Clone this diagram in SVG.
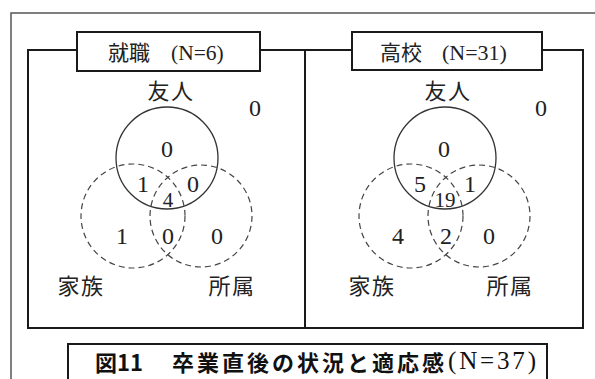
<svg xmlns="http://www.w3.org/2000/svg" width="595" height="379" viewBox="0 0 595 379">
<style>
.frame{fill:none;stroke:#555;stroke-width:1.5}
.panel{fill:none;stroke:#1a1a1a;stroke-width:2}
.tbox{fill:#fff;stroke:#1a1a1a;stroke-width:2}
.solid{fill:none;stroke:#333;stroke-width:1.3}
.dash{fill:none;stroke:#444;stroke-width:1.2;stroke-dasharray:6 4}
.lab{font-family:"Liberation Serif","Noto Sans CJK JP",serif;font-size:22px;fill:#222;text-anchor:middle;letter-spacing:1.5px}
.num{font-family:"Liberation Serif",serif;font-size:24px;fill:#222;text-anchor:middle}
.sm{font-size:21px}
.ttl{font-family:"Liberation Serif","Noto Sans CJK JP",serif;font-size:21px;fill:#222}
.cap{font-family:"Noto Sans CJK JP",sans-serif;font-size:22px;font-weight:bold;fill:#111}
.capn{font-family:"Liberation Serif",serif;font-weight:normal;font-size:25px}
</style>
<g id="frame">
<path class="frame" d="M11,379 V13 H595"/>
</g>
<g id="connectors">
<rect class="panel" x="28" y="50" width="555" height="278"/>
<line class="panel" x1="305" y1="50" x2="305" y2="328"/>
</g>
<g id="title-left">
<rect class="tbox" x="77" y="32" width="183" height="39"/>
<text class="ttl" y="60"><tspan x="108">就職 </tspan><tspan x="171" font-size="21.5px">(N=6)</tspan></text>
</g>
<g id="title-right">
<rect class="tbox" x="352" y="32" width="190" height="38"/>
<text class="ttl" y="60"><tspan x="380">高校 </tspan><tspan x="442" font-size="22px">(N=31)</tspan></text>
</g>
<g id="venn-left">
<circle class="solid" cx="167" cy="158" r="51"/>
<circle class="dash" cx="133" cy="216" r="52"/>
<circle class="dash" cx="201" cy="216" r="51"/>
<text class="lab" x="171" y="99">友人</text>
<text class="lab" x="81" y="294">家族</text>
<text class="lab" x="232" y="294">所属</text>
<text class="num" x="255" y="116">0</text>
<text class="num" x="167" y="157">0</text>
<text class="num" x="143" y="192">1</text>
<text class="num" x="193" y="192">0</text>
<text class="num sm" x="168" y="207">4</text>
<text class="num" x="122" y="244">1</text>
<text class="num" x="168" y="244">0</text>
<text class="num" x="217" y="244">0</text>
</g>
<g id="venn-right">
<circle class="solid" cx="445" cy="158" r="51"/>
<circle class="dash" cx="411" cy="216" r="52"/>
<circle class="dash" cx="479" cy="216" r="51"/>
<text class="lab" x="448" y="99">友人</text>
<text class="lab" x="372" y="294">家族</text>
<text class="lab" x="510" y="294">所属</text>
<text class="num" x="541" y="116">0</text>
<text class="num" x="444" y="157">0</text>
<text class="num" x="420" y="192">5</text>
<text class="num" x="470" y="192">1</text>
<text class="num sm" x="445" y="207">19</text>
<text class="num" x="398" y="244">4</text>
<text class="num" x="446" y="244">2</text>
<text class="num" x="489" y="244">0</text>
</g>
<g id="caption">
<path class="tbox" d="M68,381 V344 H547 V381"/>
<text class="cap" y="371"><tspan x="95">図11　</tspan><tspan x="172" letter-spacing="3">卒業直後の状況と適応感</tspan><tspan class="capn" x="448" y="369" textLength="88" lengthAdjust="spacing">(N=37)</tspan></text>
</g>
</svg>
